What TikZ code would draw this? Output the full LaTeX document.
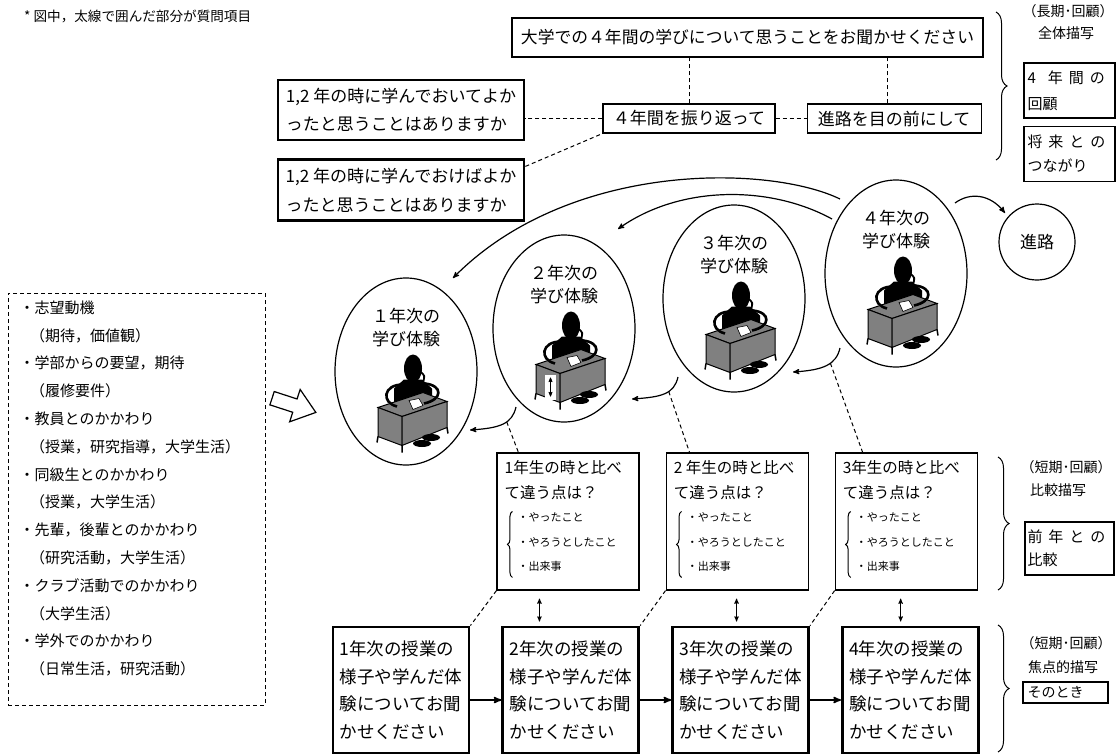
\documentclass[tikz,border=0pt]{standalone}
\usepackage{fontspec}
\setmainfont{Noto Sans CJK JP}
\usetikzlibrary{positioning,arrows,shapes.geometric,decorations.pathreplacing,calc}
\definecolor{deskgray}{gray}{0.5}
\newcommand{\sz}[2]{\fontsize{#1pt}{#2pt}\selectfont}

\begin{document}
\begin{tikzpicture}[x=1pt,y=-1pt,>=stealth',
        main node/.style={rectangle,draw,line width=1.1pt,inner sep=0pt},
        bold node/.style={main node,line width=2.8pt},
        year node/.style={ellipse,draw,line width=1.2pt,inner sep=0pt,
            minimum width=142pt,minimum height=187pt},
        link/.style={-,line width=1pt,dash pattern=on 4pt off 3pt},
        bracket/.style={decorate,decoration={brace,amplitude=#1},line width=1pt},
        pics/student/.style={code={
            % head, hair and body behind the desk
            \fill (3,-6) ellipse [x radius=9, y radius=14];
            \draw[line width=1.8pt] (10,-3) .. controls (15,1) .. (13,8);
            \fill (-6,5) -- (12,5) -- (22,14) -- (22,30) -- (-16,34) -- (-16,14) -- cycle;
            % desk
            \filldraw[fill=deskgray,line width=1pt] (-32,33) -- (13,18) -- (37,27) -- (-8,42) -- cycle;
            \filldraw[fill=deskgray,line width=1pt] (-32,33) -- (-8,42) -- (-8,71) -- (-32,62) -- cycle;
            \filldraw[fill=deskgray,line width=1pt] (-8,42) -- (37,27) -- (37,53) -- (-8,71) -- cycle;
            \draw[line width=1.5pt] (-32,62) -- (-33,68) (-8,71) -- (-8,78) (37,53) -- (38,59);
            % feet
            \fill (12,69) ellipse [x radius=9, y radius=3.5];
            \fill (21,63) ellipse [x radius=9, y radius=3.5];
            % arms and paper
            \draw[line width=2.6pt] (-7,10) .. controls (-27,10) and (-29,28) .. (-13,32);
            \draw[line width=2.6pt] (15,9) .. controls (33,11) and (33,25) .. (14,29);
            \filldraw[fill=white,line width=.6pt] (-1,26) -- (9,24) -- (13,31) -- (3,35) -- cycle;
        }},
        pics/desk arrow/.style={code={
            \fill[white] (-23,43) rectangle (-12,68);
            \draw[<->,line width=.7pt] (-17.5,46) -- (-17.5,65);
        }}]

    \useasboundingbox (0,0) rectangle (1116,755);

    \node[anchor=west,inner sep=0pt] (note) at (24,16) {\sz{13.6}{16}* 図中，太線で囲んだ部分が質問項目};

    % questions on the four years
    \node[bold node,minimum width=471pt,minimum height=39pt] (top) at (747.5,37.5)
        {\sz{16.8}{20}大学での４年間の学びについて思うことをお聞かせください};
    \node[bold node,minimum width=246pt,minimum height=60pt,align=left,font=\sz{17}{28}] (good) at (401,110)
        {1,2 年の時に学んでおいてよか\\ったと思うことはありますか};
    \node[bold node,minimum width=246pt,minimum height=61pt,align=left,font=\sz{17}{29}] (should) [below=17pt of good]
        {1,2 年の時に学んでおけばよか\\ったと思うことはありますか};
    \node[main node,minimum width=172pt,minimum height=29pt] (back) at (689,118.5) {\sz{17}{20}４年間を振り返って};
    \node[main node,minimum width=174pt,minimum height=29pt] (ahead) [right=31pt of back] {\sz{17}{20}進路を目の前にして};
    \coordinate (p) at ($(ahead.north)+(-7,0)$);

    \draw[link] (back.west) -- (back.west -| good.east);
    \draw[link] ($(should.north east)+(0,8)$) -- (back.south west);
    \draw[link] (back) -- (ahead);
    \draw[link] (back.north) -- (back.north |- top.south);
    \draw[link] (p) -- (p |- top.south);

    % labels on the right
    \node (long) at (1068,11) {\sz{14}{16}（長期･回顧）};
    \node (whole) at (1066,33) {\sz{14}{16}全体描写};
    \node[main node,minimum width=91pt,minimum height=55pt,text width=84pt,align=left,font=\sz{15}{26}] (look) at (1069.5,90.5)
        {4\hspace{.8em}年\hspace{.4em}間\hspace{.4em}の\\回顧};
    \node[main node,minimum width=91pt,minimum height=55pt,text width=84pt,align=left,font=\sz{15}{24}] (future) [below=7pt of look]
        {将\hspace{.4em}来\hspace{.4em}と\hspace{.4em}の\\つながり};
    \draw[bracket=11pt] (996,12) -- (996,160);

    \node (short1) at (1066,467) {\sz{14}{16}（短期･回顧）};
    \node (compare) at (1058,490) {\sz{14}{16}比較描写};
    \node[main node,minimum width=89pt,minimum height=53pt,text width=84pt,align=left,font=\sz{15}{23}] (prev) at (1069.5,548.5)
        {前\hspace{.4em}年\hspace{.4em}と\hspace{.4em}の\\比較};
    \draw[bracket=11pt] (998,457) -- (998,590);

    \node (short2) at (1066,643) {\sz{14}{16}（短期･回顧）};
    \node (focus) at (1063,667) {\sz{14}{16}焦点的描写};
    \node[main node,minimum width=85pt,minimum height=21pt,text width=76pt,align=left,font=\sz{14}{16}] (then) at (1065.5,692.5) {そのとき};
    \draw[bracket=11pt] (998,625) -- (998,752);

    % learning experience of each year
    \node[year node] (e1) at (406,371.5) {};
    \node[year node] (e2) at (564,328.5) {};
    \node[year node] (e3) at (734,298.5) {};
    \node[year node] (e4) at (896,273.5) {};
    \node[align=center,font=\sz{17}{23}] at ($(e1)+(0,-44)$) {１年次の\\学び体験};
    \node[align=center,font=\sz{17}{23}] at ($(e2)+(0,-44)$) {２年次の\\学び体験};
    \node[align=center,font=\sz{17}{23}] at ($(e3)+(0,-44)$) {３年次の\\学び体験};
    \node[align=center,font=\sz{17}{23}] at ($(e4)+(0,-44)$) {４年次の\\学び体験};
    \pic at ($(e1)+(4,3)$) {student};
    \pic at ($(e2)+(4,3)$) {student};
    \pic at ($(e2)+(4,3)$) {desk arrow};
    \pic at ($(e3)+(4,3)$) {student};
    \pic at ($(e4)+(4,3)$) {student};

    \node[circle,draw,line width=1.2pt,minimum size=76pt,inner sep=0pt] (career) at (1037,242) {\sz{17}{20}進路};

    \draw[->,line width=1.2pt] ($(e4)+(-56,-74.5)$) .. controls (770,165) and (570,160) .. ($(e1)+(47,-93.5)$);
    \draw[->,line width=1.2pt] ($(e4)+(-64,-54.5)$) .. controls (770,185) and (680,185) .. ($(e2)+(54,-99.5)$);
    \draw[->,line width=1.2pt] ($(e4)+(59,-70.5)$) .. controls (970,192) and (990,194) .. ($(career)+(-32,-29)$);

    \draw[->,line width=1.2pt] ($(e2)+(-48,78.5)$) .. controls +(-4,17) and +(30,-2) .. ($(e1)+(64,58.5)$) coordinate[pos=.4] (k1);
    \draw[->,line width=1.2pt] ($(e3)+(-56,78.5)$) .. controls +(-4,17) and +(30,-2) .. ($(e2)+(68,70.5)$) coordinate[pos=.4] (k2);
    \draw[->,line width=1.2pt] ($(e4)+(-56,74.5)$) .. controls +(-4,17) and +(30,-2) .. ($(e3)+(59,73.5)$) coordinate[pos=.4] (k3);

    % what shaped the first year
    \node[draw,link,minimum width=257pt,minimum height=412pt,inner sep=0pt] (factors) at (136.5,499) {};
    \node[align=left,inner sep=0pt,font=\sz{15}{27.8}] (list) [below right=8pt and 12pt of factors.north west]
        {・志望動機\\\hspace*{.7em}（期待，価値観）\\・学部からの要望，期待\\\hspace*{.7em}（履修要件）\\
         ・教員とのかかわり\\\hspace*{.7em}（授業，研究指導，大学生活）\\・同級生とのかかわり\\\hspace*{.7em}（授業，大学生活）\\
         ・先輩，後輩とのかかわり\\\hspace*{.7em}（研究活動，大学生活）\\・クラブ活動でのかかわり\\\hspace*{.7em}（大学生活）\\
         ・学外でのかかわり\\\hspace*{.7em}（日常生活，研究活動）};
    \filldraw[fill=white,line width=1.2pt,rotate around={-18:(293,405)}]
        (271,398) -- (295,398) -- (295,388) -- (317,405) -- (295,422) -- (295,412) -- (271,412) -- cycle;

    % comparison with the year before
    \node[main node,minimum width=142pt,minimum height=137pt] (cmp1) at (568,521.5) {};
    \node[main node,minimum width=142pt,minimum height=137pt] (cmp2) [right=26pt of cmp1] {};
    \node[main node,minimum width=142pt,minimum height=137pt] (cmp3) [right=26pt of cmp2] {};

    \node[align=left,inner sep=0pt,font=\sz{15.5}{25}] [below right=7.5pt and 8pt of cmp1.north west] {1年生の時と比べ\\て違う点は？};
    \node[align=left,inner sep=0pt,font=\sz{11}{24.5}] [below right=60pt and 21pt of cmp1.north west] {・やったこと\\・やろうとしたこと\\・出来事};
    \draw[bracket=5pt] ($(cmp1.north west)+(16,125)$) -- ($(cmp1.north west)+(16,59)$);
    \node[align=left,inner sep=0pt,font=\sz{15.5}{25}] [below right=7.5pt and 8pt of cmp2.north west] {2 年生の時と比べ\\て違う点は？};
    \node[align=left,inner sep=0pt,font=\sz{11}{24.5}] [below right=60pt and 21pt of cmp2.north west] {・やったこと\\・やろうとしたこと\\・出来事};
    \draw[bracket=5pt] ($(cmp2.north west)+(16,125)$) -- ($(cmp2.north west)+(16,59)$);
    \node[align=left,inner sep=0pt,font=\sz{15.5}{25}] [below right=7.5pt and 8pt of cmp3.north west] {3年生の時と比べ\\て違う点は？};
    \node[align=left,inner sep=0pt,font=\sz{11}{24.5}] [below right=60pt and 21pt of cmp3.north west] {・やったこと\\・やろうとしたこと\\・出来事};
    \draw[bracket=5pt] ($(cmp3.north west)+(16,125)$) -- ($(cmp3.north west)+(16,59)$);

    \draw[link] (k1) -- ($(cmp1.north west)+(22,0)$);
    \draw[link] (k2) -- ($(cmp2.north west)+(24,0)$);
    \draw[link] (k3) -- ($(cmp3.north west)+(28,0)$);

    % lessons of each year
    \node[bold node,minimum width=136pt,minimum height=126pt,align=left,font=\sz{17.5}{27.5}] (y1) at (401,690)
        {1年次の授業の\\様子や学んだ体\\験についてお聞\\かせください};
    \node[bold node,minimum width=136pt,minimum height=126pt,align=left,font=\sz{17.5}{27.5}] (y2) [right=31pt of y1]
        {2年次の授業の\\様子や学んだ体\\験についてお聞\\かせください};
    \node[bold node,minimum width=136pt,minimum height=126pt,align=left,font=\sz{17.5}{27.5}] (y3) [right=31pt of y2]
        {3年次の授業の\\様子や学んだ体\\験についてお聞\\かせください};
    \node[bold node,minimum width=136pt,minimum height=126pt,align=left,font=\sz{17.5}{27.5}] (y4) [right=31pt of y3]
        {4年次の授業の\\様子や学んだ体\\験についてお聞\\かせください};

    \draw[->,line width=1.6pt] ($(y1.east)+(0,10)$) -- ($(y2.west)+(0,10)$);
    \draw[->,line width=1.6pt] ($(y2.east)+(0,10)$) -- ($(y3.west)+(0,10)$);
    \draw[->,line width=1.6pt] ($(y3.east)+(0,10)$) -- ($(y4.west)+(0,10)$);

    \draw[<->,line width=.9pt] ($(cmp1.south west)+(43,8)$) -- ($(cmp1.south west)+(43,31)$);
    \draw[<->,line width=.9pt] ($(cmp2.south west)+(71,8)$) -- ($(cmp2.south west)+(71,31)$);
    \draw[<->,line width=.9pt] ($(cmp3.south west)+(66,8)$) -- ($(cmp3.south west)+(66,31)$);

    \draw[link] (cmp1.south west) -- (y1.north east);
    \draw[link] (cmp2.south west) -- (y2.north east);
    \draw[link] (cmp3.south west) -- (y3.north east);

\end{tikzpicture}
\end{document}
